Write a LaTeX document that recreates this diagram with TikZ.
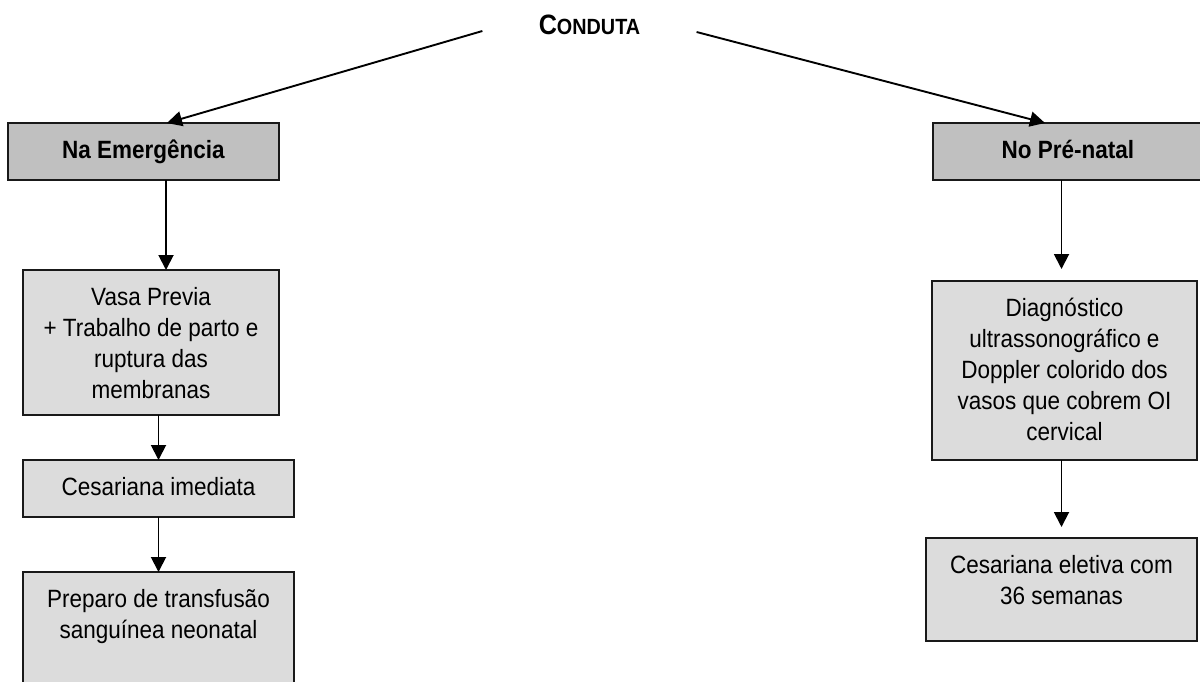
\documentclass[tikz,border=0pt]{standalone}
\usepackage{fontspec}
\setmainfont{Liberation Sans}[FakeStretch=0.9]
\usetikzlibrary{positioning, arrows.meta}
\definecolor{headgray}{HTML}{C0C0C0}
\definecolor{boxgray}{HTML}{DCDCDC}
% text of a box, set from the top: width, height, lines
\newcommand{\celltext}[3]{\parbox[c][#2][t]{#1}{\centering\vspace*{7pt}\strut #3\par}}
\tikzset{
    arrow/.style={-{Triangle[length=7.5pt, width=7.5pt]}, line width=0.95pt}, % connectors with filled heads
    cell/.style={draw=black!90, line width=1pt, fill=boxgray, inner sep=0pt, outer sep=0pt,
                 font=\fontsize{12.5}{15.5}\selectfont}, % every box
    head/.style={cell, fill=headgray, font=\fontsize{12.5}{15.5}\selectfont\bfseries}, % the two branch boxes
}

\begin{document}
\begin{tikzpicture}[x=0.5pt, y=-0.5pt
                  ]
                  \useasboundingbox (0,0) rectangle (1200,681);
                  \node[font=\bfseries, inner xsep=28pt] (title) at (589.5,25)
                      {{\fontsize{14}{16}\selectfont C}{\fontsize{11}{13}\selectfont ONDUTA}};
                  \node[head] (em) at (143.5,151.5) {\celltext{135.5pt}{28.5pt}{Na Emergência}};
                  \node[head] (pre) at (1068,151.5) {\celltext{135pt}{28.5pt}{No Pré-natal}};
                  \node[cell, below=45pt of em, xshift=3.75pt] (vasa)
                      {\celltext{128pt}{72.5pt}{Vasa Previa\\+ Trabalho de parto e\\ruptura das\\membranas}};
                  \node[cell, below=22.5pt of vasa, xshift=3.75pt] (ces)
                      {\celltext{135.5pt}{28.5pt}{Cesariana imediata}};
                  \node[cell, below=27.5pt of ces] (prep)
                      {\celltext{135.5pt}{70pt}{Preparo de transfusão\\sanguínea neonatal}};
                  \node[cell, below=50.5pt of pre, xshift=-1.75pt] (diag)
                      {\celltext{132.5pt}{89.5pt}{Diagnóstico\\ultrassonográfico e\\Doppler colorido dos\\vasos que cobrem OI\\cervical}};
                  \node[cell, below=39pt of diag, xshift=-1.5pt] (elet)
                      {\celltext{135.5pt}{51.5pt}{Cesariana eletiva com\\36 semanas}};
                  \draw[arrow] ([yshift=-3pt]title.west) -- ([xshift=11.75pt]em.north);
                  \draw[arrow] ([yshift=-3.5pt]title.east) -- ([xshift=-11.5pt]pre.north);
                  \draw[arrow] ([xshift=11.25pt]em.south) -- ([xshift=11.25pt]em.south |- vasa.north);
                  \draw[arrow] (vasa.south -| ces.north) -- (ces.north);
                  \draw[arrow] (ces.south) -- (prep.north);
                  \draw[arrow, shorten >=6pt] (pre.south -| elet.north) -- (diag.north -| elet.north);
                  \draw[arrow, shorten >=5.5pt] (diag.south -| elet.north) -- (elet.north);
              \end{tikzpicture}
\end{document}
